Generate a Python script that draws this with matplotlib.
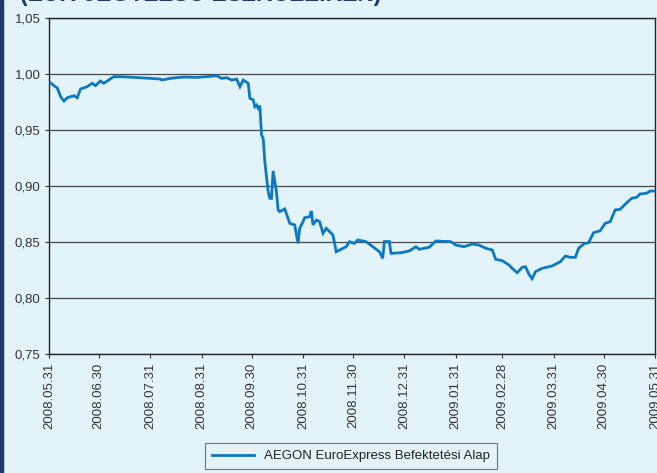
import matplotlib
matplotlib.use("Agg")
import matplotlib.pyplot as plt
import pandas as pd
from matplotlib.patches import Rectangle

plt.rcParams['font.family'] = ['Liberation Sans', 'DejaVu Sans']

dates = [
    "2008-06-01", "2008-06-03", "2008-06-05", "2008-06-07", "2008-06-09", "2008-06-11",
    "2008-06-15", "2008-06-17", "2008-06-19", "2008-06-23", "2008-06-26", "2008-06-28",
    "2008-07-01", "2008-07-03", "2008-07-06", "2008-07-09", "2008-07-13", "2008-07-21",
    "2008-07-31", "2008-08-06", "2008-08-07", "2008-08-12", "2008-08-20", "2008-08-28",
    "2008-09-03", "2008-09-09", "2008-09-12", "2008-09-15", "2008-09-18", "2008-09-21",
    "2008-09-23", "2008-09-25", "2008-09-28", "2008-09-29", "2008-10-01", "2008-10-02",
    "2008-10-03", "2008-10-04", "2008-10-05", "2008-10-06", "2008-10-07", "2008-10-08",
    "2008-10-10", "2008-10-11", "2008-10-12", "2008-10-13", "2008-10-15", "2008-10-16",
    "2008-10-17", "2008-10-20", "2008-10-23", "2008-10-26", "2008-10-28", "2008-10-29",
    "2008-10-31", "2008-11-01", "2008-11-04", "2008-11-05", "2008-11-06", "2008-11-08",
    "2008-11-10", "2008-11-12", "2008-11-14", "2008-11-16", "2008-11-18", "2008-11-20",
    "2008-11-22", "2008-11-26", "2008-11-28", "2008-12-01", "2008-12-03", "2008-12-08",
    "2008-12-12", "2008-12-16", "2008-12-18", "2008-12-19", "2008-12-22", "2008-12-23",
    "2008-12-29", "2009-01-03", "2009-01-07", "2009-01-09", "2009-01-15", "2009-01-19",
    "2009-01-28", "2009-01-31", "2009-02-05", "2009-02-10", "2009-02-14", "2009-02-18",
    "2009-02-22", "2009-02-24", "2009-02-28", "2009-03-04", "2009-03-06", "2009-03-09",
    "2009-03-12", "2009-03-14", "2009-03-16", "2009-03-18", "2009-03-20", "2009-03-24",
    "2009-03-30", "2009-04-04", "2009-04-07", "2009-04-10", "2009-04-13", "2009-04-15",
    "2009-04-18", "2009-04-21", "2009-04-24", "2009-04-28", "2009-05-01", "2009-05-04",
    "2009-05-07", "2009-05-10", "2009-05-14", "2009-05-17", "2009-05-20", "2009-05-22",
    "2009-05-26", "2009-05-28", "2009-05-31",
]
values = [
    0.992, 0.9896, 0.9875, 0.9797, 0.9759, 0.9788,
    0.9806, 0.9788, 0.9866, 0.9887, 0.9917, 0.9896,
    0.9938, 0.9917, 0.9946, 0.9976, 0.9976, 0.9970,
    0.9961, 0.9955, 0.9946, 0.9961, 0.9973, 0.9970,
    0.9976, 0.9985, 0.9961, 0.9967, 0.9946, 0.9955,
    0.9887, 0.9946, 0.9917, 0.9783, 0.9768, 0.9708,
    0.9723, 0.9694, 0.9717, 0.9455, 0.9426, 0.9217,
    0.8949, 0.8890, 0.8890, 0.9134, 0.8949, 0.8786,
    0.8771, 0.8795, 0.8667, 0.8652, 0.8488, 0.8622,
    0.8681, 0.8717, 0.8726, 0.8777, 0.8652, 0.8696,
    0.8681, 0.8578, 0.8622, 0.8592, 0.8563, 0.8413,
    0.8429, 0.8458, 0.8503, 0.8488, 0.8518, 0.8503,
    0.8458, 0.8413, 0.8354, 0.8504, 0.8504, 0.8399,
    0.8404, 0.8420, 0.8458, 0.8435, 0.8453, 0.8509,
    0.8503, 0.8473, 0.8458, 0.8482, 0.8473, 0.8444,
    0.8429, 0.8346, 0.8333, 0.8295, 0.8265, 0.8226,
    0.8274, 0.8279, 0.8214, 0.8172, 0.8235, 0.8265,
    0.8286, 0.8324, 0.8375, 0.8363, 0.8363, 0.8444,
    0.8482, 0.8494, 0.8583, 0.8601, 0.8667, 0.8681,
    0.8786, 0.8792, 0.8851, 0.8890, 0.8899, 0.8929,
    0.8935, 0.8955, 0.8955,
]
tick_dates = ["2008-05-31", "2008-06-30", "2008-07-31", "2008-08-31", "2008-09-30",
              "2008-10-31", "2008-11-30", "2008-12-31", "2009-01-31", "2009-02-28",
              "2009-03-31", "2009-04-30", "2009-05-31"]
tick_labels = ["2008.05.31", "2008.06.30", "2008.07.31", "2008.08.31", "2008.09.30",
               "2008.10.31", "2008.11.30", "2008.12.31", "2009.01.31", "2009.02.28",
               "2009.03.31", "2009.04.30", "2009.05.31"]
y_ticks = [0.75, 0.80, 0.85, 0.90, 0.95, 1.00, 1.05]
series_name = "AEGON EuroExpress Befektetési Alap"
title_text = "(EUR-JEGYZÉSŰ ESZKÖZEIKEN)"

bg = "#e3f3fa"
line_color = "#0b78c2"
navy = "#1c3a6e"

fig = plt.figure(figsize=(6.57, 4.73), dpi=100, facecolor=bg)
ax = fig.add_axes([49/657, 1-354/473, 606/657, 336/473])
ax.set_facecolor(bg)

x = pd.to_datetime(dates)
ax.plot(x, values, color=line_color, lw=2.0, label=series_name, zorder=3,
        solid_joinstyle="miter")

ax.set_xlim(pd.Timestamp(tick_dates[0]), pd.Timestamp(tick_dates[-1]))
ax.set_ylim(0.75, 1.05)
ax.set_yticks(y_ticks)
ax.set_yticklabels([f"{v:.2f}".replace(".", ",") for v in y_ticks])
ax.set_xticks(pd.to_datetime(tick_dates))
ax.set_xticklabels(tick_labels, rotation=90, va="top", ha="center")

ax.grid(axis="y", color="#4a4a4a", lw=0.9)
ax.set_axisbelow(True)
for s in ["left", "bottom", "right", "top"]:
    ax.spines[s].set_color("#222222")
    ax.spines[s].set_linewidth(1.0)

ax.tick_params(axis="both", colors="#333333", labelsize=9.5, length=3, width=0.8, direction="out")
ax.tick_params(axis="x", pad=3)
ax.tick_params(axis="y", pad=3)

leg = fig.legend(loc="center", bbox_to_anchor=(351/657, 1-456/473), frameon=True,
                 fontsize=9.5, handlelength=3.2, borderpad=0.5, fancybox=False)
leg.get_frame().set_edgecolor("#555555")
leg.get_frame().set_facecolor(bg)
leg.get_frame().set_linewidth(0.8)
for t in leg.get_texts():
    t.set_color("#222222")

fig.add_artist(Rectangle((0, 0), 3/657, 1, transform=fig.transFigure, color=navy, zorder=5))
fig.text(20/657, 1-0.5/473, title_text, fontsize=16.5, fontweight="bold", color=navy,
         ha="left", va="baseline")

fig.savefig("out.png", dpi=100, facecolor=bg)
